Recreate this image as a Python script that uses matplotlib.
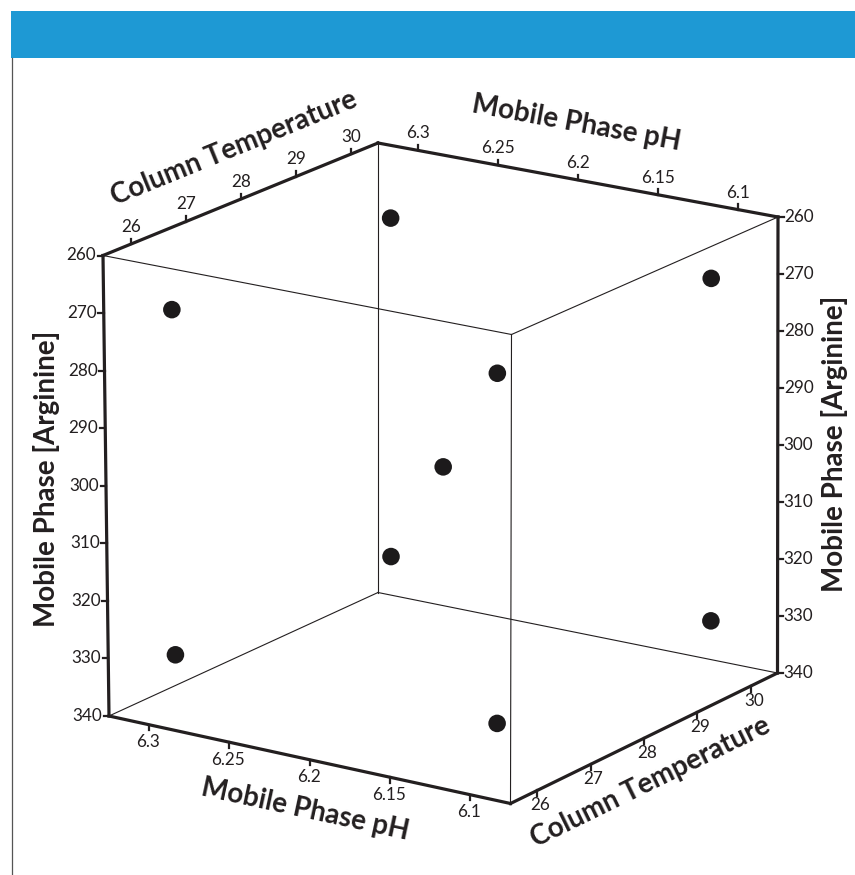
import numpy as np
import matplotlib
matplotlib.use("Agg")
import matplotlib.pyplot as plt
from matplotlib.patches import Rectangle

# ---- design-space data -------------------------------------------------
ph_ticks = [6.3, 6.25, 6.2, 6.15, 6.1]
temp_ticks = [26, 27, 28, 29, 30]
arg_ticks = [260, 270, 280, 290, 300, 310, 320, 330, 340]

# axis extents (pH runs from high to low along its edges)
ph_range = (6.325, 6.075)
temp_range = (25.5, 30.5)
arg_range = (260, 340)

# experimental runs: 2^3 factorial plus centre point
run_ph = [6.3, 6.1, 6.3, 6.1, 6.2, 6.3, 6.1, 6.3, 6.1]
run_temp = [26, 26, 30, 30, 28, 26, 26, 30, 30]
run_arg = [270, 270, 270, 270, 300, 330, 330, 330, 330]

# ---- cube frame layout (canvas pixels, y down) --------------------------
# keys: (pH end, temperature end, arginine end)
corners = {
    (0, 0, 0): (103.0, 255.5),
    (1, 0, 0): (511.5, 334.5),
    (1, 1, 0): (778.0, 217.0),
    (0, 1, 0): (378.0, 143.0),
    (0, 0, 1): (109.0, 716.0),
    (1, 0, 1): (510.5, 803.5),
    (1, 1, 1): (777.5, 673.0),
    (0, 1, 1): (378.0, 592.5),
}

INK = "#231f20"
FONT = "Lato"


def frac(val, rng):
    return (val - rng[0]) / (rng[1] - rng[0])


def project(ph, temp, arg):
    """Trilinear mapping of a design point into the drawn cube."""
    u, v, w = frac(ph, ph_range), frac(temp, temp_range), frac(arg, arg_range)
    x = y = 0.0
    for (i, j, k), (cx, cy) in corners.items():
        wt = (u if i else 1 - u) * (v if j else 1 - v) * (w if k else 1 - w)
        x += wt * cx
        y += wt * cy
    return x, y


fig = plt.figure(figsize=(8.55, 8.75), dpi=100)
ax = fig.add_axes([0, 0, 1, 1])
ax.set_xlim(0, 855)
ax.set_ylim(875, 0)
ax.axis("off")

# header band and left rule
ax.add_patch(Rectangle((11, 10.7), 855 - 11, 47, facecolor="#1e99d4",
                       edgecolor="none", zorder=1))
ax.plot([11.7, 11.7], [57.7, 875], color="#555555", lw=0.9, zorder=1)


def edge(a, b, lw):
    p, q = corners[a], corners[b]
    ax.plot([p[0], q[0]], [p[1], q[1]], color=INK, lw=lw,
            solid_capstyle="projecting", zorder=2)


# hidden / interior edges (thin)
for a, b in [((0, 0, 0), (1, 0, 0)), ((1, 0, 0), (1, 1, 0)),
             ((1, 0, 0), (1, 0, 1)), ((0, 1, 0), (0, 1, 1)),
             ((0, 1, 1), (0, 0, 1)), ((0, 1, 1), (1, 1, 1))]:
    edge(a, b, 0.8)

# axis edges (thick)
for a, b in [((0, 0, 0), (0, 0, 1)), ((0, 0, 1), (1, 0, 1)),
             ((1, 0, 1), (1, 1, 1)), ((1, 1, 0), (1, 1, 1)),
             ((0, 1, 0), (1, 1, 0)), ((0, 0, 0), (0, 1, 0))]:
    edge(a, b, 2.3)

tick_kw = dict(color=INK, fontsize=12.3, family=FONT)
TL = 5.5  # tick length in px

# arginine axes (left and right verticals)
for a in arg_ticks:
    x, y = project(ph_range[0], temp_range[0], a)
    ax.plot([x - TL, x], [y, y], color=INK, lw=1.6, zorder=2)
    ax.text(x - 7, y, f"{a}", ha="right", va="center", **tick_kw)
    x, y = project(ph_range[1], temp_range[1], a)
    ax.plot([x, x + TL], [y, y], color=INK, lw=1.6, zorder=2)
    ax.text(x + 6, y, f"{a}", ha="left", va="center", **tick_kw)

# pH axes: top back edge and bottom front edge
for p in ph_ticks:
    lab = f"{p:g}"
    x, y = project(p, temp_range[1], arg_range[0])
    ax.plot([x, x], [y, y - TL], color=INK, lw=1.6, zorder=2)
    ax.text(x, y - 17, lab, ha="center", va="center", **tick_kw)
    x, y = project(p, temp_range[0], arg_range[1])
    ax.plot([x, x], [y, y + TL], color=INK, lw=1.6, zorder=2)
    ax.text(x - 1, y + 17.5, lab, ha="center", va="center", **tick_kw)

# temperature axes: top left edge and bottom right edge
for t in temp_ticks:
    x, y = project(ph_range[0], t, arg_range[0])
    ax.plot([x, x], [y, y - TL], color=INK, lw=1.6, zorder=2)
    ax.text(x + 1, y - 17.5, f"{t}", ha="center", va="center", **tick_kw)
    x, y = project(ph_range[1], t, arg_range[1])
    ax.plot([x, x], [y, y + TL], color=INK, lw=1.6, zorder=2)
    ax.text(x + 3, y + 15, f"{t}", ha="center", va="center", **tick_kw)

# axis titles
title_kw = dict(color=INK, fontsize=20, family=FONT, fontweight="bold",
                ha="center", va="center", rotation_mode="anchor")
ax.text(46.5, 479, "Mobile Phase [Arginine]", rotation=90, **title_kw)
ax.text(834, 444, "Mobile Phase [Arginine]", rotation=90, **title_kw)
ax.text(234, 148, "Column Temperature", rotation=22.2, **title_kw)
ax.text(576, 123, "Mobile Phase pH", rotation=-10.4, **title_kw)
ax.text(305.5, 810, "Mobile Phase pH", rotation=-12.2, **title_kw)
ax.text(650, 782, "Column Temperature", rotation=26.2, **title_kw)

# design points
px, py = zip(*[project(p, t, a) for p, t, a in zip(run_ph, run_temp, run_arg)])
ax.scatter(px, py, s=160, color="#1c1a1b", edgecolors="none", zorder=4)

fig.savefig("out.png", dpi=100)
